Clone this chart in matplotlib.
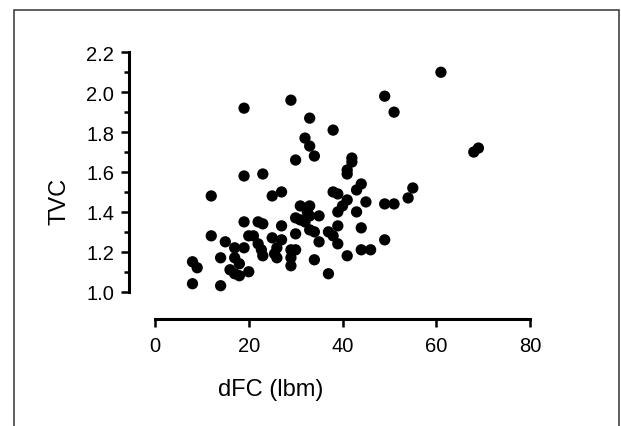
import matplotlib
matplotlib.use('Agg')
import matplotlib.pyplot as plt
from matplotlib.patches import Rectangle
from matplotlib.ticker import MultipleLocator

plt.rcParams['font.family'] = ['Liberation Sans', 'DejaVu Sans']

# dFC (lbm) vs TVC
dfc = [8, 9, 8, 12, 12, 14, 14, 15, 16, 17, 18, 17, 17, 18,
       19, 19, 19, 19, 20, 20, 21, 22, 23, 23, 22, 22.7, 23,
       25, 25, 25.5, 26, 26, 27, 27, 27, 29, 29, 29, 29,
       30, 30, 30, 30, 31, 31, 32, 33, 33, 33, 32.5, 32, 33, 33,
       34, 34, 34, 35, 35, 37, 37, 38, 38, 38, 39, 39, 39, 39,
       40, 41, 41, 41, 41, 42, 42, 43, 43, 44, 44, 44, 45, 46,
       49, 49, 49, 51, 51, 54, 55, 61, 68, 69]
tvc = [1.15, 1.12, 1.04, 1.48, 1.28, 1.17, 1.03, 1.25, 1.11, 1.09, 1.08, 1.22, 1.17, 1.14,
       1.92, 1.58, 1.35, 1.22, 1.10, 1.28, 1.28, 1.35, 1.34, 1.59, 1.24, 1.21, 1.18,
       1.48, 1.27, 1.19, 1.17, 1.22, 1.50, 1.33, 1.26, 1.96, 1.13, 1.17, 1.21,
       1.66, 1.29, 1.37, 1.21, 1.43, 1.36, 1.77, 1.87, 1.73, 1.43, 1.40, 1.35, 1.31, 1.38,
       1.68, 1.30, 1.16, 1.38, 1.25, 1.09, 1.30, 1.81, 1.50, 1.28, 1.49, 1.40, 1.33, 1.24,
       1.43, 1.61, 1.59, 1.46, 1.18, 1.67, 1.65, 1.40, 1.51, 1.54, 1.32, 1.21, 1.45, 1.21,
       1.98, 1.44, 1.26, 1.90, 1.44, 1.47, 1.52, 2.10, 1.70, 1.72]

xticks = [0, 20, 40, 60, 80]
yticks = [1.0, 1.2, 1.4, 1.6, 1.8, 2.0, 2.2]

fig = plt.figure(figsize=(6.21, 4.27), dpi=100)
ax = fig.add_axes([155 / 621, 1 - 292.7 / 427, 375 / 621, 239.4 / 427])

ax.scatter(dfc, tvc, s=66, color='black', edgecolors='none', clip_on=False, zorder=3)

ax.set_xlim(0, 80)
ax.set_ylim(1.0, 2.2)
ax.set_xticks(xticks)
ax.set_yticks(yticks)
ax.set_yticklabels(['%.1f' % v for v in yticks])
ax.yaxis.set_minor_locator(MultipleLocator(0.1))

for side in ['top', 'right']:
    ax.spines[side].set_visible(False)
ax.spines['left'].set_position(('outward', 18.7))
ax.spines['bottom'].set_position(('outward', 19.3))
ax.spines['left'].set_bounds(1.0, 2.2)
ax.spines['bottom'].set_bounds(0, 80)
for side in ['left', 'bottom']:
    ax.spines[side].set_linewidth(2.2)
    ax.spines[side].set_capstyle('projecting')

ax.tick_params(which='major', direction='out', length=5.8, width=1.8, labelsize=14.5, pad=5)
ax.tick_params(axis='x', which='major', pad=6.5)
ax.tick_params(axis='y', which='minor', direction='out', length=3.5, width=1.8)

fig.text(59 / 621, 1 - 201 / 427, 'TVC', rotation=90, ha='center', va='center', fontsize=17)
fig.text(271 / 621, 1 - 390 / 427, 'dFC (lbm)', ha='center', va='center', fontsize=17)

# frame around the figure (bottom edge runs off the picture)
fig.patches.append(Rectangle((13.5 / 621, -0.1), 605 / 621, 1.1 - 10.5 / 427,
                             transform=fig.transFigure, fill=False,
                             edgecolor='#333333', linewidth=1.1))

fig.savefig('out.png', dpi=100)
